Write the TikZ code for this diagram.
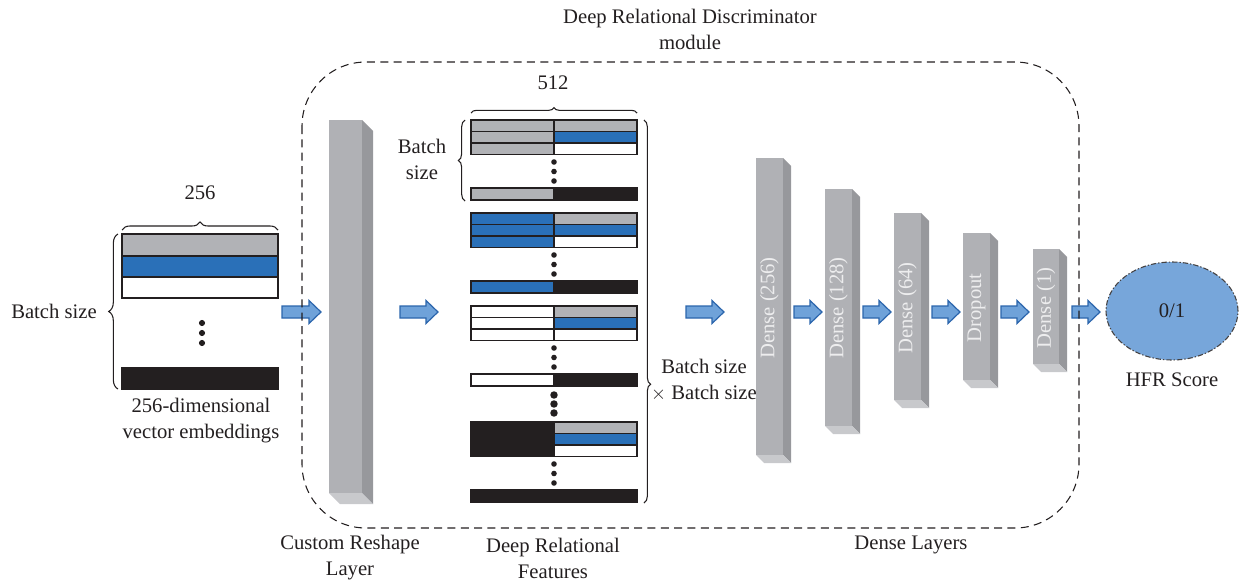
\documentclass[tikz,border=0pt]{standalone}
\usepackage{fontspec}
\setmainfont{Liberation Serif}
\usetikzlibrary{decorations.pathreplacing,shapes.geometric}

\definecolor{ink}{HTML}{231F20}
\definecolor{cellgray}{HTML}{B1B2B6}
\definecolor{cellblue}{HTML}{2A70B8}
\definecolor{barfront}{HTML}{B0B1B5}
\definecolor{barside}{HTML}{97989C}
\definecolor{barbase}{HTML}{C8C9CC}
\definecolor{arrowfill}{HTML}{6FA2D9}
\definecolor{arrowline}{HTML}{2B65AC}
\definecolor{scorefill}{HTML}{77A6DA}
\definecolor{bartext}{HTML}{EDEDEE}

% one full-width embedding row
\newcommand\embrow[3]{\filldraw[cell,fill=#3] (122,#1) rectangle (278,#2);}
% one row of concatenated pair features (left half | right half)
\newcommand\pairrow[4]{%
  \filldraw[cell,fill=#3] (471,#1) rectangle (554,#2);
  \filldraw[cell,fill=#4] (554,#1) rectangle (637,#2);}
% a block of pair rows sharing the same left embedding
\newcommand\pairblock[2]{%
  \pairrow{#1}{#1+11.5}{#2}{cellgray}
  \pairrow{#1+11.5}{#1+23}{#2}{cellblue}
  \pairrow{#1+23}{#1+34.5}{#2}{white}
  \fill[ink] (554,#1+42) circle[radius=2.1pt] (554,#1+51.5) circle[radius=2.1pt] (554,#1+61) circle[radius=2.1pt];
  \pairrow{#1+68}{#1+80}{#2}{ink}}
% extruded layer block: x0, x1, y0, y1, depth, name
\newcommand\layerbar[6]{%
  \fill[barside] (#2,#3) -- (#2+#5,#3+#5) -- (#2+#5,#4+#5) -- (#2,#4) -- cycle;
  \fill[barbase] (#1,#4) -- (#2,#4) -- (#2+#5,#4+#5) -- (#1+#5,#4+#5) -- cycle;
  \fill[barfront] (#1,#3) rectangle (#2,#4);
  \coordinate (#6) at ({(#1+#2)/2},{(#3+#4)/2});}
% block arrow from x0 to x1 at height y
\newcommand\blockarrow[3]{%
  \filldraw[barrow] (#1,#3-6) -- (#2-12,#3-6) -- (#2-12,#3-11.5) -- (#2,#3)
    -- (#2-12,#3+11.5) -- (#2-12,#3+6) -- (#1,#3+6) -- cycle;}

\begin{document}
\begin{tikzpicture}[x=0.75pt,y=-0.75pt,
  every node/.style={text=ink,font=\fontsize{15.5}{19.5}\selectfont,inner sep=0pt},
  cell/.style={draw=ink,line width=1pt},
  barrow/.style={fill=arrowfill,draw=arrowline,line width=0.9pt,line join=miter},
  curly/.style={draw=ink,line width=0.8pt,decorate},
  densetext/.style={text=bartext,rotate=90},
  lbl/.style={align=center}]
\useasboundingbox (0,0) rectangle (1240,582);

% ---- input embeddings ----
\embrow{234}{256}{cellgray}
\embrow{256}{277}{cellblue}
\embrow{277}{298}{white}
\fill[ink] (202,323) circle[radius=2.3pt] (202,333) circle[radius=2.3pt] (202,343) circle[radius=2.3pt];
\embrow{368}{389}{ink}
\draw[curly,decoration={brace,amplitude=6pt}] (122,230) -- (278,230);
\draw[curly,decoration={brace,amplitude=7pt}] (118,389) -- (118,234);
\node[lbl] (dim256) at (200,193) {256};
\node[anchor=west] (bsin) at (11,311) {Batch size};
\node[lbl] (embtxt) at (201,421) {256-dimensional\\vector embeddings};

% ---- custom reshape layer ----
\layerbar{329}{362}{120}{493}{11}{reshape}

% ---- deep relational features ----
\pairblock{120}{cellgray}
\pairblock{213}{cellblue}
\pairblock{306}{white}
\fill[ink] (554,395) circle[radius=2.8pt] (554,404) circle[radius=2.8pt] (554,413) circle[radius=2.8pt];
\pairblock{422}{ink}
\draw[curly,decoration={brace,amplitude=4pt}] (471,113) -- (637,113);
\draw[curly,decoration={brace,amplitude=5pt}] (465,201) -- (465,120);
\draw[curly,decoration={brace,amplitude=5pt,aspect=0.69}] (644,120) -- (644,503);
\node[lbl] (dim512) at (553,83) {512};
\node[lbl] (bsgrp) at (422,159) {Batch\\size};
\node[lbl] (bsbs) at (704,380) {Batch size\\$\times$ Batch size};

% ---- dense stack ----
\layerbar{756}{783}{158}{455}{8}{d256}
\layerbar{825}{852}{189}{426}{8}{d128}
\layerbar{894}{921}{213}{400}{8}{d64}
\layerbar{963}{990}{233}{380}{8}{drop}
\layerbar{1033}{1059}{249}{364}{8}{d1}
\node[densetext] (t256) at (769.5,308) {Dense (256)};
\node[densetext] (t128) at (838.5,308) {Dense (128)};
\node[densetext] (t64) at (907.5,308) {Dense (64)};
\node[densetext] (tdrop) at (976.5,308) {Dropout};
\node[densetext] (t1) at (1046,308) {Dense (1)};

% ---- flow arrows ----
\blockarrow{282}{321}{312}
\blockarrow{400}{438}{312}
\blockarrow{686}{724}{312}
\blockarrow{794}{822}{312}
\blockarrow{863}{891}{312}
\blockarrow{932}{960}{312}
\blockarrow{1001}{1029}{312}
\blockarrow{1072}{1100}{312}

% ---- output score ----
\node[ellipse,draw=ink!85,fill=scorefill,line width=0.8pt,
  dash pattern=on 4pt off 1.5pt on 1pt off 1.5pt,
  minimum width=99pt,minimum height=73.5pt] (score) at (1172,311) {0/1};
\node[lbl] (hfr) at (1172,380) {HFR Score};

% ---- module frame and captions ----
\draw[ink,line width=0.8pt,dash pattern=on 6pt off 4pt,rounded corners=48pt]
  (302,62) rectangle (1079,528);
\node[lbl] (title) at (690,29) {Deep Relational Discriminator\\module};
\node[lbl] (cap1) at (350,558) {Custom Reshape\\Layer};
\node[lbl] (cap2) at (553,558) {Deep Relational\\Features};
\node[lbl] (cap3) at (911,545) {Dense Layers};
\end{tikzpicture}
\end{document}
